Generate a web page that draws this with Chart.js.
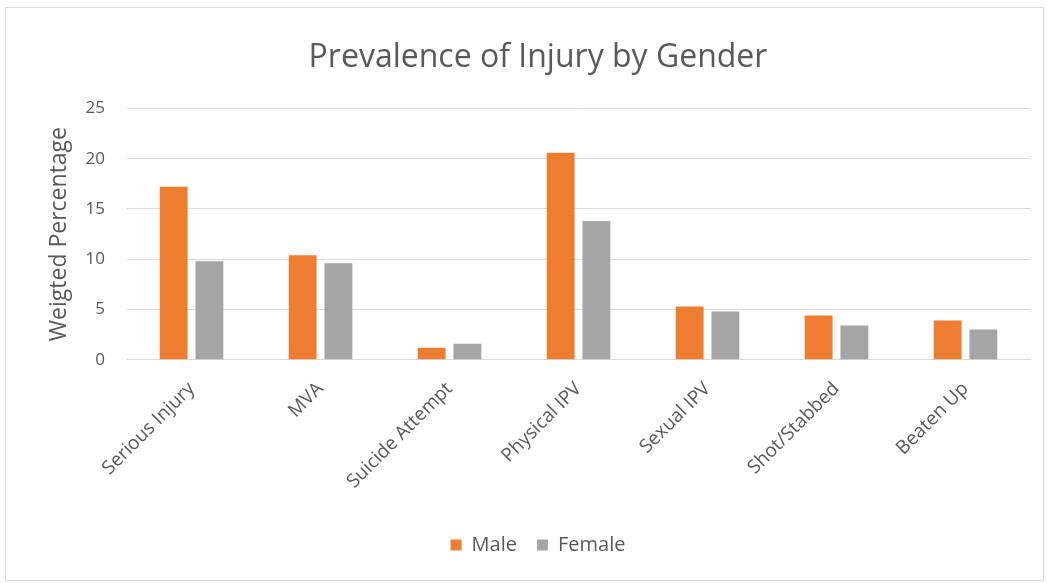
<!DOCTYPE html>
<html>
<head>
<meta charset="utf-8">
<script src="https://cdn.jsdelivr.net/npm/chart.js@4/dist/chart.umd.min.js"></script>
<style>
  html, body { margin: 0; padding: 0; background: #fff; }
  #wrap { position: relative; width: 1047px; height: 583px; }
  #frame {
    position: absolute; left: 5px; top: 7px; width: 1039px; height: 574px;
    border: 1px solid #d9d9d9; box-sizing: border-box; pointer-events: none;
  }
  canvas { display: block; }
</style>
</head>
<body>
<div id="wrap">
  <canvas id="injuryChart" width="1047" height="583"></canvas>
  <div id="frame"></div>
</div>
<script>
  // Injury categories and weighted percentages by gender
  const categories = ['Serious Injury', 'MVA', 'Suicide Attempt', 'Physical IPV', 'Sexual IPV', 'Shot/Stabbed', 'Beaten Up'];
  const maleValues = [17.2, 10.4, 1.2, 20.6, 5.3, 4.4, 3.9];
  const femaleValues = [9.8, 9.6, 1.6, 13.8, 4.8, 3.4, 3.0];
  const yTicks = [0, 5, 10, 15, 20, 25];

  const textColor = '#595959';
  const fontFamily = '"Open Sans", "Noto Sans", sans-serif';

  new Chart(document.getElementById('injuryChart'), {
    type: 'bar',
    data: {
      labels: categories,
      datasets: [
        { label: 'Male', data: maleValues, backgroundColor: '#ED7D31' },
        { label: 'Female', data: femaleValues, backgroundColor: '#A5A5A5' },
      ],
    },
    options: {
      responsive: false,
      animation: false,
      categoryPercentage: 0.554,
      barPercentage: 0.78,
      layout: { padding: { left: 46, right: 17, top: 8, bottom: 18 } },
      plugins: {
        title: {
          display: true,
          text: 'Prevalence of Injury by Gender',
          color: textColor,
          font: { family: fontFamily, size: 32, weight: 'normal' },
          padding: { top: 31, bottom: 31 },
        },
        legend: {
          position: 'bottom',
          labels: {
            color: textColor,
            font: { family: fontFamily, size: 20 },
            boxWidth: 11,
            boxHeight: 11,
            padding: 20,
          },
        },
        tooltip: { enabled: false },
      },
      scales: {
        x: {
          grid: { display: false },
          border: { color: '#d9d9d9' },
          // leave a gap between the slanted labels and the legend
          afterFit: (axis) => { axis.height += 12; },
          ticks: {
            color: textColor,
            font: { family: fontFamily, size: 19 },
            minRotation: 45,
            maxRotation: 45,
            padding: 10,
          },
        },
        y: {
          min: yTicks[0],
          max: yTicks[yTicks.length - 1],
          afterBuildTicks: (axis) => { axis.ticks = yTicks.map((v) => ({ value: v })); },
          grid: { color: '#d9d9d9', drawTicks: false },
          border: { display: false },
          ticks: {
            color: textColor,
            font: { family: fontFamily, size: 17 },
            padding: 22,
          },
          title: {
            display: true,
            text: 'Weigted Percentage',
            color: textColor,
            font: { family: fontFamily, size: 23 },
            padding: { top: 0, bottom: -10 },
          },
        },
      },
    },
  });
</script>
</body>
</html>
